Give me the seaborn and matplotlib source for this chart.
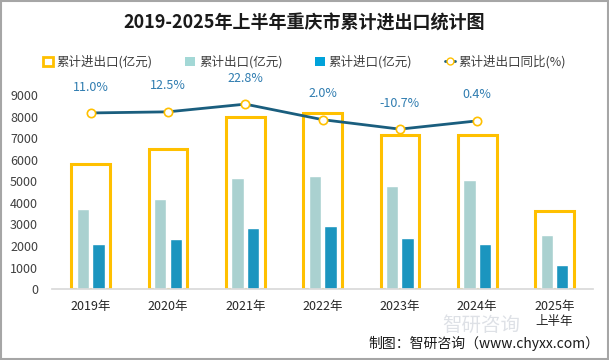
import pandas as pd
import matplotlib.pyplot as plt
import seaborn as sns
from matplotlib.lines import Line2D
from matplotlib.patches import Patch, Rectangle

years = ["2019年", "2020年", "2021年", "2022年", "2023年", "2024年", "2025年\n上半年"]
total = [5792.8, 6513.4, 8000.6, 8158.4, 7137.4, 7168.6, 3630]
exports = [3712.9, 4187.5, 5168.3, 5245.3, 4789.2, 5080, 2510]
imports = [2079.9, 2325.9, 2832.3, 2913.1, 2348.2, 2088, 1120]
growth = [11.0, 12.5, 22.8, 2.0, -10.7, 0.4]
growth_labels = ["11.0%", "12.5%", "22.8%", "2.0%", "-10.7%", "0.4%"]

sns.set_theme(style="white")
plt.rcParams['font.family'] = ['Noto Sans CJK SC', 'DejaVu Sans']

fig = plt.figure(figsize=(6.09, 3.6), dpi=100)
ax = fig.add_axes([0.0854, 0.197, 0.8886, 0.539])

df_tot = pd.DataFrame({"year": years, "value": total})
sns.barplot(data=df_tot, x="year", y="value", ax=ax, width=0.5, fill=False,
            edgecolor="#FFC000", linewidth=2.2, errorbar=None)
# seaborn sets color for unfilled bars; force outline colour
for p in ax.patches:
    p.set_edgecolor("#FFC000")

df_ei = pd.DataFrame({
    "year": years * 2,
    "value": exports + imports,
    "kind": ["累计出口(亿元)"] * 7 + ["累计进口(亿元)"] * 7,
})
sns.barplot(data=df_ei, x="year", y="value", hue="kind", ax=ax, width=0.4, gap=0.2,
            palette=["#A3D8D6", "#00A2DA"], errorbar=None, legend=False)

ax.set_ylim(0, 9000)
ax.set_yticks(range(0, 9001, 1000))
ax.set_xlim(-0.5, 6.5)
ax.set_xlabel("")
ax.set_ylabel("")
for s in ["top", "right", "left"]:
    ax.spines[s].set_visible(False)
ax.spines["bottom"].set_color("#D9D9D9")
ax.tick_params(axis="y", labelsize=9, colors="#404040", length=0, pad=10)
ax.tick_params(axis="x", labelsize=9, colors="#262626", length=0, pad=8)

ax2 = ax.twinx()
sns.lineplot(x=list(range(len(growth))), y=growth, ax=ax2, color="#1A5E7E", linewidth=2,
             marker="o", markersize=6, markerfacecolor="white", markeredgecolor="#FFC000",
             markeredgewidth=1.2)
ax2.set_ylim(-225, 35)
ax2.axis("off")
for i, (g, lab) in enumerate(zip(growth, growth_labels)):
    ax2.annotate(lab, (i, g), xytext=(0, 14), textcoords="offset points", ha="center",
                 va="bottom", fontsize=9, color="#2F7CB0", annotation_clip=False)

fig.text(0.5, 0.935, "2019-2025年上半年重庆市累计进出口统计图", ha="center", va="center",
         fontsize=13, fontweight="bold", color="#1a1a1a")

handles = [
    Patch(facecolor="white", edgecolor="#FFC000", linewidth=2),
    Patch(facecolor="#A3D8D6", edgecolor="none"),
    Patch(facecolor="#00A2DA", edgecolor="none"),
    Line2D([0], [0], color="#1A5E7E", linewidth=2, marker="o", markersize=5,
           markerfacecolor="white", markeredgecolor="#FFC000"),
]
labels = ["累计进出口(亿元)", "累计出口(亿元)", "累计进口(亿元)", "累计进出口同比(%)"]
fig.legend(handles, labels, loc="center", bbox_to_anchor=(0.5, 0.828), ncol=4, frameon=False,
           fontsize=9, handlelength=0.8, handleheight=0.8, handletextpad=0.3, columnspacing=2.6,
           labelcolor="#404040")

# watermark
fig.text(0.79, 0.097, "智研咨询", ha="center", va="center", fontsize=14, color="#C8CDD6",
         alpha=0.6, zorder=0)

fig.text(0.985, 0.045, "制图：智研咨询（www.chyxx.com）", ha="right", va="center",
         fontsize=10, color="#1a1a1a")

fig.patches.append(Rectangle((0.001, 0.002), 0.997, 0.995, transform=fig.transFigure,
                             fill=False, edgecolor="#A6A6A6", linewidth=1.5))

fig.savefig("out.png", dpi=100)
